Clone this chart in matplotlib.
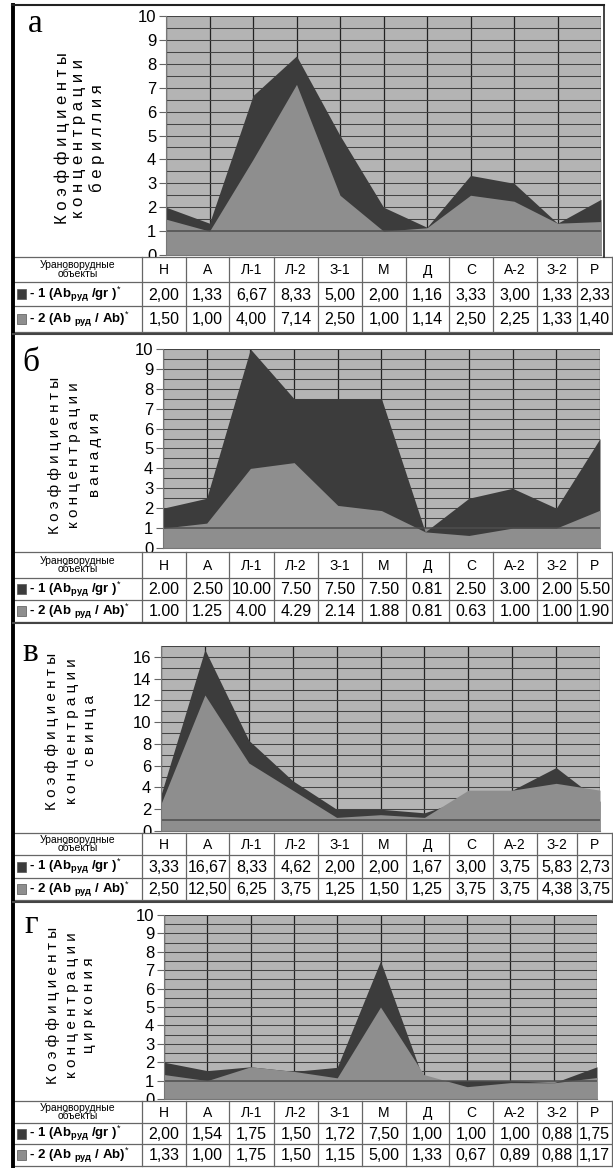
import numpy as np
import matplotlib.pyplot as plt
from matplotlib.patches import Rectangle

plt.rcParams['font.family'] = ['Liberation Sans', 'DejaVu Sans']
plt.rcParams['mathtext.fontset'] = 'custom'
plt.rcParams['mathtext.rm'] = 'Liberation Sans'
plt.rcParams['mathtext.bf'] = 'Liberation Sans:bold'

# uranium ore objects
objects = ['Н', 'А', 'Л-1', 'Л-2', 'З-1', 'М', 'Д', 'С', 'А-2', 'З-2', 'Р']

# 1 - Ab_ore / gr, 2 - Ab_ore / Ab
be_1 = [2.00, 1.33, 6.67, 8.33, 5.00, 2.00, 1.16, 3.33, 3.00, 1.33, 2.33]
be_2 = [1.50, 1.00, 4.00, 7.14, 2.50, 1.00, 1.14, 2.50, 2.25, 1.33, 1.40]
v_1 = [2.00, 2.50, 10.00, 7.50, 7.50, 7.50, 0.81, 2.50, 3.00, 2.00, 5.50]
v_2 = [1.00, 1.25, 4.00, 4.29, 2.14, 1.88, 0.81, 0.63, 1.00, 1.00, 1.90]
pb_1 = [3.33, 16.67, 8.33, 4.62, 2.00, 2.00, 1.67, 3.00, 3.75, 5.83, 2.73]
pb_2 = [2.50, 12.50, 6.25, 3.75, 1.25, 1.50, 1.25, 3.75, 3.75, 4.38, 3.75]
zr_1 = [2.00, 1.54, 1.75, 1.50, 1.72, 7.50, 1.00, 1.00, 1.00, 0.88, 1.75]
zr_2 = [1.33, 1.00, 1.75, 1.50, 1.15, 5.00, 1.33, 0.67, 0.89, 0.88, 1.17]

letters = ['а', 'б', 'в', 'г']
elements = ['бериллия', 'ванадия', 'свинца', 'циркония']

W, H = 613, 1168
DARK = '#3c3c3c'
LIGHT = '#8e8e8e'
BAND = '#878787'
BG = '#b4b4b4'


def box(l, t, r, b):
    return [l / W, 1 - b / H, (r - l) / W, (b - t) / H]


# layout of each panel in pixels
panels = [
    dict(s1=be_1, s2=be_2, ymax=10, tick=1, grid=0.5, comma=True,
         ax=(166, 16, 601, 255), rows=(257, 282, 306, 332),
         lab_x=(62, 79, 97), lab_y=138, lab_fs=12, let=(35, 24)),
    dict(s1=v_1, s2=v_2, ymax=10, tick=1, grid=0.5, comma=False,
         ax=(163, 349, 600, 548), rows=(552, 578, 600, 622),
         lab_x=(55, 74, 95), lab_y=455, lab_fs=11, let=(31, 363)),
    dict(s1=pb_1, s2=pb_2, ymax=17, tick=2, grid=1, comma=True,
         ax=(161, 646, 600, 831), rows=(833, 855, 878, 900),
         lab_x=(52, 72, 90), lab_y=731, lab_fs=11, let=(30, 653)),
    dict(s1=zr_1, s2=zr_2, ymax=10, tick=1, grid=0.5, comma=True,
         ax=(164, 915, 597, 1099), rows=(1101, 1123, 1144, 1166),
         lab_x=(53, 72, 89), lab_y=1005, lab_fs=11, let=(31, 925)),
]
cols = [13, 142, 186, 229, 274, 318, 362, 406, 449, 493, 537, 577, 612]

fig = plt.figure(figsize=(W / 100, H / 100), dpi=100)
fig.patch.set_facecolor('white')

x = np.arange(len(objects))

for p in panels:
    ax = fig.add_axes(box(*p['ax']))
    ax.set_facecolor(BG)
    ax.set_axisbelow(True)
    ax.fill_between(x, 0, 1, color=BAND, lw=0)
    ax.fill_between(x, 0, p['s1'], color=DARK, lw=0)
    ax.fill_between(x, 0, p['s2'], color=LIGHT, lw=0)
    ax.axhline(1, color='#4d4d4d', lw=1.1)
    ax.set_xlim(0, len(objects) - 1)
    ax.set_ylim(0, p['ymax'])
    yt = np.arange(0, p['ymax'] + 0.01, p['tick'])
    if p['ymax'] == 17:
        yt = yt[yt <= 16]
    ax.set_yticks(yt)
    ax.set_yticklabels([f'{v:g}' for v in yt], fontsize=12)
    ax.set_yticks(np.arange(0, p['ymax'] + 0.01, p['grid']), minor=True)
    ax.set_xticks(x)
    ax.set_xticklabels([])
    ax.tick_params(axis='x', length=0)
    ax.tick_params(axis='y', which='major', direction='out', length=5,
                   color='#666666', pad=2)
    ax.tick_params(axis='y', which='minor', length=0)
    ax.grid(axis='y', which='both', color='#444444', lw=0.75)
    ax.grid(axis='x', which='major', color='#222222', lw=0.9)
    for s in ['top', 'right']:
        ax.spines[s].set_visible(False)
    ax.spines['left'].set_color('#777777')
    ax.spines['bottom'].set_color('#777777')

# overlay in pixel coordinates for tables, labels and frame
ov = fig.add_axes([0, 0, 1, 1], zorder=5)
ov.set_xlim(0, W)
ov.set_ylim(H, 0)
ov.axis('off')
ov.patch.set_visible(False)

for i, p in enumerate(panels):
    lx, ly = p['let']
    ov.text(lx, ly, letters[i], family='Liberation Serif', fontsize=24,
            ha='center', va='center')
    words = ['Коэффициенты', 'концентрации', elements[i]]
    for xx, w in zip(p['lab_x'], words):
        ov.text(xx, p['lab_y'], ' '.join(w), rotation=90, ha='center',
                va='center', fontsize=p['lab_fs'])

    t, h1, h2, h3 = p['rows']
    ov.add_patch(Rectangle((cols[0], t), cols[-1] - cols[0], h3 - t,
                           facecolor='white', edgecolor='none', zorder=1))
    for yy in (t, h1, h2, h3):
        ov.plot([cols[0], cols[-1]], [yy, yy], color='#666666', lw=0.9, zorder=2)
    for xx in cols:
        ov.plot([xx, xx], [t, h3], color='#666666', lw=0.9, zorder=2)
    ov.text((cols[0] + cols[1]) / 2, (t + h1) / 2, 'Урановорудные\nобъекты',
            fontsize=7.5, ha='center', va='center', linespacing=0.85, zorder=3)
    for j, name in enumerate(objects):
        cx = (cols[j + 1] + cols[j + 2]) / 2
        ov.text(cx, (t + h1) / 2 + 1, name, fontsize=10, ha='center',
                va='center', zorder=3)
        for yy0, yy1, vals in ((h1, h2, p['s1']), (h2, h3, p['s2'])):
            s = f'{vals[j]:.2f}'
            if p['comma']:
                s = s.replace('.', ',')
            ov.text(cx, (yy0 + yy1) / 2 + 1, s, fontsize=11.5, ha='center',
                    va='center', zorder=3)
    labels = [r'- 1 (Ab$_{\mathbf{руд}}$ /gr )$^{*}$',
              r'- 2 (Ab $_{\mathbf{руд}}$ / Ab)$^{*}$']
    for (yy0, yy1), col, lab in zip(((h1, h2), (h2, h3)), (DARK, LIGHT), labels):
        yc = (yy0 + yy1) / 2
        ov.add_patch(Rectangle((17, yc - 5), 9, 10, facecolor=col,
                               edgecolor='#555555', lw=0.5, zorder=3))
        ov.text(29, yc, lab, fontsize=9.5, fontweight='bold', ha='left',
                va='center', zorder=3)

# frame and separators
ov.plot([13, 13], [5, H], color='black', lw=2.8)
ov.plot([12, 604], [5, 5], color='#222222', lw=1.5)
ov.plot([604, 604], [5, 257], color='#222222', lw=1.2)
for yy in (334, 623, 902):
    ov.plot([13, 612], [yy, yy], color='#444444', lw=1.5)

fig.savefig('out.png', dpi=100)
